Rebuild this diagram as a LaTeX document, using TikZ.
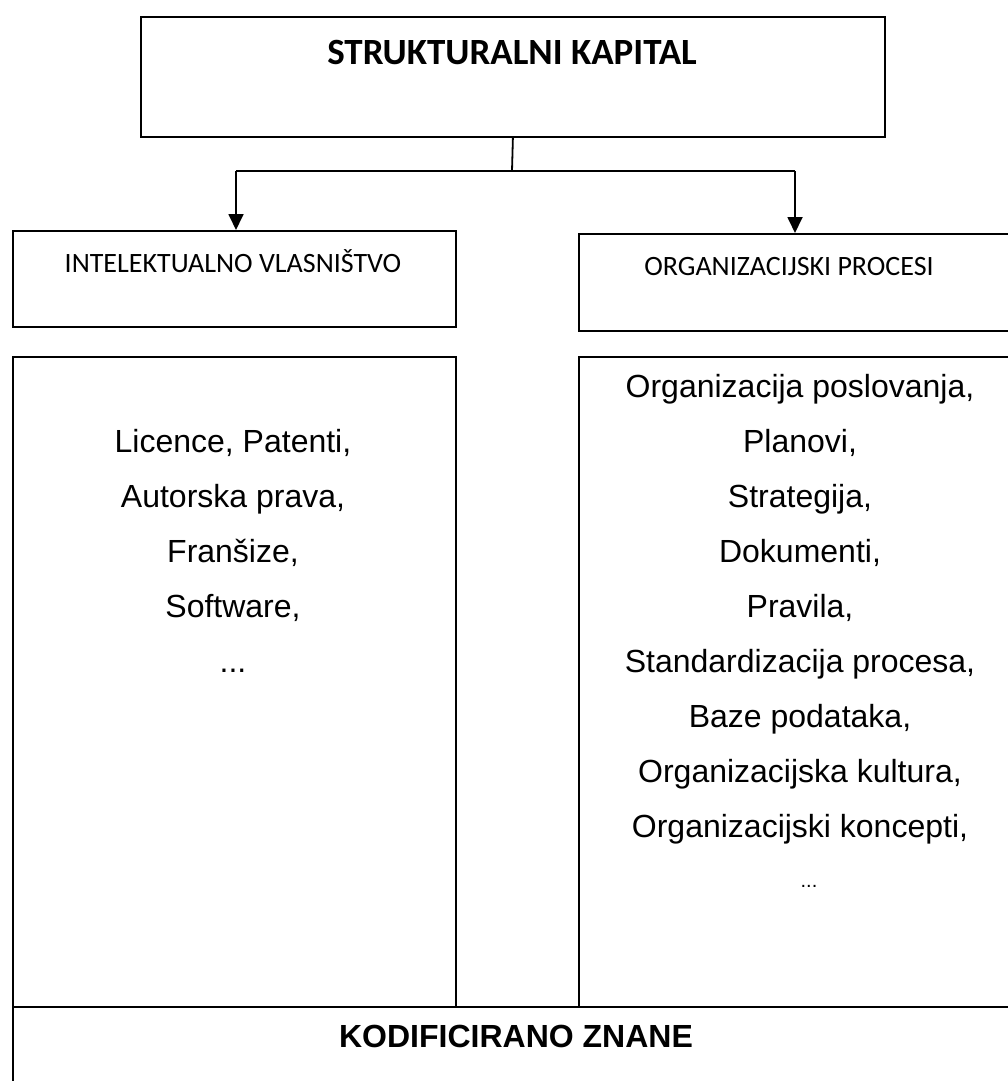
\documentclass[tikz,border=0pt]{standalone}
\usepackage{fontspec}
\setmainfont{Liberation Sans}
\newfontfamily\calibri{Carlito}
\usetikzlibrary{arrows.meta}
\begin{document}
\begin{tikzpicture}[x=1pt,y=-1pt,line width=1.8pt,
  box/.style={draw, inner sep=0pt, anchor=north west},
  lst/.style={anchor=base, inner sep=0pt, font=\fontsize{32}{32}\selectfont},
  smalldots/.style={anchor=base, inner sep=0pt, font=\fontsize{20}{20}\selectfont},
  head/.style={anchor=base, inner sep=0pt, font=\calibri\fontsize{28}{28}\selectfont},
  arr/.style={-{Triangle[length=16pt,width=15pt]}}]
\useasboundingbox (0,0) rectangle (1008,1081);
\clip (0,0) rectangle (1008,1081);
% boxes
\node[box, minimum width=744pt, minimum height=120pt] (top) at (140,16) {};
\node[box, minimum width=443pt, minimum height=96pt] (lb) at (12,230) {};
\node[box, minimum width=450pt, minimum height=97pt] (rb) at (578,233) {};
\node[box, minimum width=443pt, minimum height=650pt] (lbig) at (12,356) {};
\node[box, minimum width=450pt, minimum height=650pt] (rbig) at (578,356) {};
\node[box, minimum width=1010pt, minimum height=100pt] (bot) at (12,1006) {};
% texts
\node[anchor=base, inner sep=0pt, font=\calibri\bfseries\fontsize{37}{37}\selectfont] (title) at (512,64) {STRUKTURALNI KAPITAL};
\node[head] (iv) at (233,272) {INTELEKTUALNO VLASNIŠTVO};
\node[head] (op) at (789,275) {ORGANIZACIJSKI PROCESI};
\node[lst] (l1) at (233,452) {Licence, Patenti,};
\node[lst] (l2) at (233,507) {Autorska prava,};
\node[lst] (l3) at (233,562) {Franšize,};
\node[lst] (l4) at (233,617) {Software,};
\node[lst] (l5) at (233,672) {...};
\node[lst] (r1) at (800,397) {Organizacija poslovanja,};
\node[lst] (r2) at (800,452) {Planovi,};
\node[lst] (r3) at (800,507) {Strategija,};
\node[lst] (r4) at (800,562) {Dokumenti,};
\node[lst] (r5) at (800,617) {Pravila,};
\node[lst] (r6) at (800,672) {Standardizacija procesa,};
\node[lst] (r7) at (800,727) {Baze podataka,};
\node[lst] (r8) at (800,782) {Organizacijska kultura,};
\node[lst] (r9) at (800,837) {Organizacijski koncepti,};
\node[smalldots] (r10) at (809,887) {...};
\node[anchor=base, inner sep=0pt, font=\bfseries\fontsize{32}{32}\selectfont] (kz) at (516,1047) {KODIFICIRANO ZNANE};
% connectors
\coordinate (J) at (512,171);
\coordinate (L) at (236,171);
\coordinate (R) at (795,171);
\draw (top.south) -- (J);
\draw (L) -- (R);
\draw[arr] (L) -- (L |- lb.north);
\draw[arr] (R) -- (R |- rb.north);
\end{tikzpicture}
\end{document}
